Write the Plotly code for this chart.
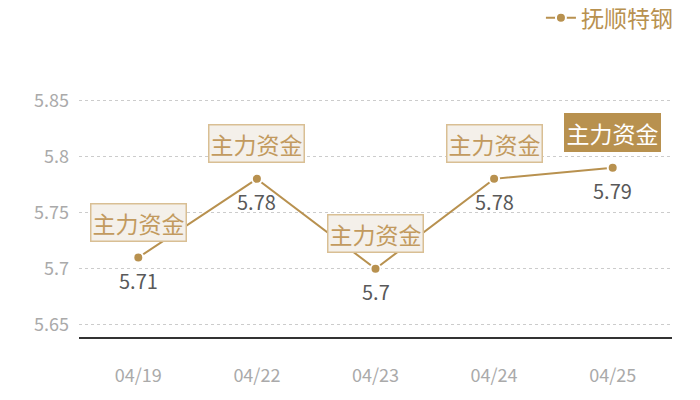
import plotly.graph_objects as go

# data
dates = ["04/19", "04/22", "04/23", "04/24", "04/25"]
prices = [5.71, 5.78, 5.70, 5.78, 5.79]
price_labels = ["5.71", "5.78", "5.7", "5.78", "5.79"]
tags = ["主力资金", "主力资金", "主力资金", "主力资金", "主力资金"]
series_name = "抚顺特钢"

gold = "#b8914f"
font_cn = "Noto Sans CJK SC, Microsoft YaHei, sans-serif"

fig = go.Figure()
fig.add_trace(go.Scatter(
    x=dates, y=prices, name=series_name,
    mode="lines+markers",
    line=dict(color=gold, width=2),
    marker=dict(color=gold, size=10, line=dict(color="white", width=2)),
    cliponaxis=False,
))

for i, (d, v, lab, t) in enumerate(zip(dates, prices, price_labels, tags)):
    last = i == len(dates) - 1
    # value under the point
    fig.add_annotation(
        x=d, y=v, text=lab, showarrow=False, yshift=-23,
        font=dict(family=font_cn, size=20, color="#595959"),
    )
    # the "主力资金" tag, last one highlighted
    fig.add_annotation(
        x=d, y=v, text=t, showarrow=False, yshift=35,
        font=dict(family=font_cn, size=23, color="white" if last else "#c29a5e"),
        bgcolor=gold if last else "#f4f0ea",
        bordercolor=gold if last else "#d9bf94",
        borderwidth=1.5, borderpad=1,
    )

# page body has an 8px margin, so the figure is a bit smaller than the window
fig.update_layout(
    width=692, height=392,
    margin=dict(l=71, r=28, t=36, b=63, autoexpand=False),
    paper_bgcolor="white", plot_bgcolor="white",
    font=dict(family=font_cn),
    showlegend=True,
    legend=dict(
        x=1.01, y=1.089, xanchor="right", yanchor="middle",
        font=dict(size=23, color=gold),
        bgcolor="rgba(0,0,0,0)",
    ),
    xaxis=dict(
        type="category", range=[-0.5, 4.5], automargin=False,
        showgrid=False, showline=True, linecolor="#333333", linewidth=1.5,
        ticks="", tickfont=dict(size=18, color="#aaaaaa"),
        ticklabelstandoff=22,
    ),
    yaxis=dict(
        range=[5.6393, 5.9], automargin=False,
        tickvals=[5.65, 5.7, 5.75, 5.8, 5.85],
        ticktext=["5.65", "5.7", "5.75", "5.8", "5.85"],
        showgrid=True, gridcolor="#cccccc", griddash="dot", gridwidth=1,
        zeroline=False, showline=False,
        tickfont=dict(size=18, color="#aaaaaa"),
        ticklabelstandoff=9,
    ),
)

fig.write_html("out.html")
